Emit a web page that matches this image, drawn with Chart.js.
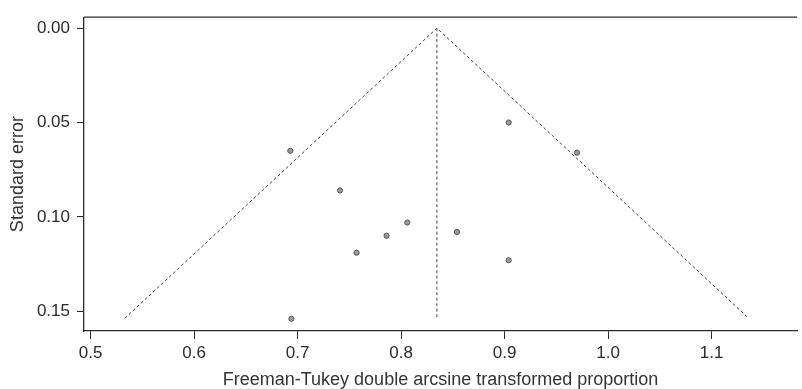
<!DOCTYPE html>
<html>
<head>
<meta charset="utf-8">
<script src="https://cdn.jsdelivr.net/npm/chart.js@4.4.1/dist/chart.umd.min.js"></script>
<style>
  html, body { margin: 0; padding: 0; background: #fff; }
  #wrap { width: 802px; height: 389px; }
</style>
</head>
<body>
<div id="wrap"><canvas id="funnel"></canvas></div>
<script>
// study estimates (x) and their standard errors (y)
const studyX = [0.693, 0.741, 0.806, 0.786, 0.757, 0.854, 0.904, 0.904, 0.694, 0.970];
const studySE = [0.065, 0.086, 0.103, 0.110, 0.119, 0.108, 0.050, 0.123, 0.154, 0.066];

// pseudo 95% confidence limits and pooled estimate
const funnelX = [0.533, 0.8346, 1.136];
const funnelSE = [0.1538, 0.0, 0.1538];
const centerX = [0.8346, 0.8346];
const centerSE = [0.0, 0.1538];

const xTicks = [0.5, 0.6, 0.7, 0.8, 0.9, 1.0, 1.1];
const yTicks = [0.00, 0.05, 0.10, 0.15];

const toPts = (xs, ys) => xs.map((x, i) => ({ x: x, y: ys[i] }));

const ink = '#2b2b2b';
const tickFont = { family: 'Liberation Sans, Arial, sans-serif', size: 17 };
const titleFont = { family: 'Liberation Sans, Arial, sans-serif', size: 18, lineHeight: 1 };

// top frame line (the plot box is open on the right)
const topFrame = {
    id: 'topFrame',
    afterDraw(chart) {
        const { ctx, chartArea } = chart;
        ctx.save();
        ctx.strokeStyle = ink;
        ctx.lineWidth = 1.3;
        ctx.beginPath();
        ctx.moveTo(chartArea.left, chartArea.top);
        ctx.lineTo(chartArea.right, chartArea.top);
        ctx.stroke();
        ctx.restore();
    }
};

new Chart(document.getElementById('funnel'), {
    type: 'scatter',
    data: {
        datasets: [
            {
                data: toPts(funnelX, funnelSE),
                showLine: true,
                borderColor: '#444',
                borderWidth: 1,
                borderDash: [3, 2.5],
                pointRadius: 0,
                fill: false
            },
            {
                data: toPts(centerX, centerSE),
                showLine: true,
                borderColor: '#444',
                borderWidth: 1,
                borderDash: [3, 2.5],
                pointRadius: 0,
                fill: false
            },
            {
                data: toPts(studyX, studySE),
                pointRadius: 2.6,
                pointBackgroundColor: '#9a9a9a',
                pointBorderColor: '#555',
                pointBorderWidth: 1
            }
        ]
    },
    options: {
        responsive: true,
        maintainAspectRatio: false,
        animation: false,
        layout: { padding: { top: 14, right: 0, bottom: 0, left: 0 } },
        plugins: {
            legend: { display: false },
            tooltip: { enabled: false }
        },
        scales: {
            x: {
                type: 'linear',
                min: 0.4936,
                max: 1.1826,
                afterFit(scale) { scale.height = 58; },
                afterBuildTicks(scale) { scale.ticks = xTicks.map(v => ({ value: v })); },
                ticks: {
                    color: ink,
                    font: tickFont,
                    padding: 4,
                    callback: v => v.toFixed(1)
                },
                grid: { drawOnChartArea: false, drawTicks: true, tickLength: 8, color: ink },
                border: { display: true, color: ink, width: 1.3 },
                title: {
                    display: true,
                    text: 'Freeman-Tukey double arcsine transformed proportion',
                    color: '#333',
                    font: titleFont,
                    padding: { top: 0, bottom: 0 }
                }
            },
            y: {
                type: 'linear',
                reverse: true,
                min: -0.0058,
                max: 0.1605,
                afterFit(scale) { scale.width = 84; },
                afterBuildTicks(scale) { scale.ticks = yTicks.map(v => ({ value: v })); },
                ticks: {
                    color: ink,
                    font: tickFont,
                    padding: 7,
                    callback: v => v.toFixed(2)
                },
                grid: { drawOnChartArea: false, drawTicks: true, tickLength: 7, color: ink },
                border: { display: true, color: ink, width: 1.3 },
                title: {
                    display: true,
                    text: 'Standard error',
                    color: '#333',
                    font: titleFont,
                    padding: { top: 9, bottom: 0 }
                }
            }
        }
    },
    plugins: [topFrame]
});
</script>
</body>
</html>
